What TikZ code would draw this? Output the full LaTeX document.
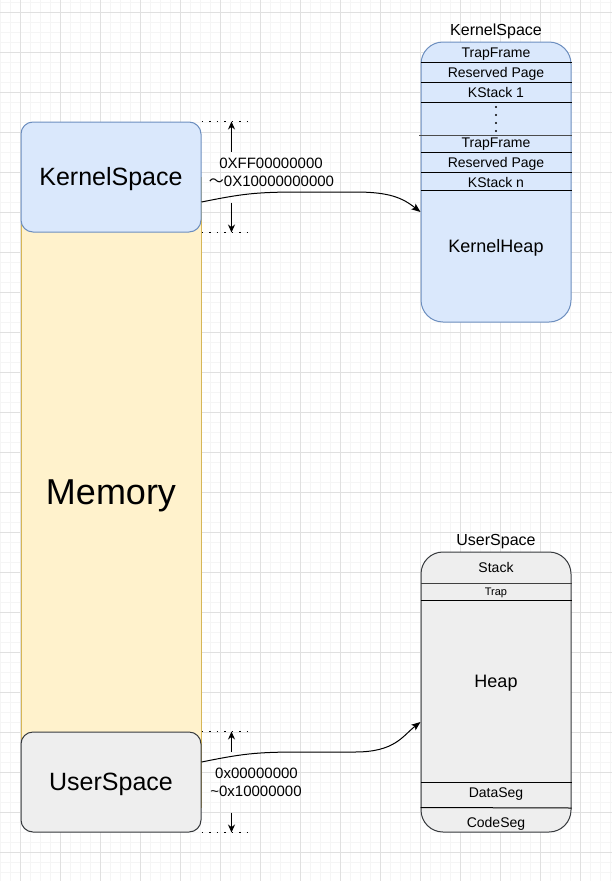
\documentclass[tikz,border=0pt]{standalone}
\usepackage{fontspec}
\setmainfont{Liberation Sans}
\newfontfamily\cjk{Noto Sans CJK SC}
\usetikzlibrary{arrows.meta,calc}
\definecolor{KernelClr}{HTML}{DAE8FC}
\definecolor{KernelLineClr}{HTML}{6C8EBF}
\definecolor{UserClr}{HTML}{EEEEEE}
\definecolor{UserLineClr}{HTML}{36393D}
\definecolor{MemoryClr}{HTML}{FFF2CC}
\definecolor{MemoryLineClr}{HTML}{D6B656}
\definecolor{GridMinorClr}{HTML}{F5F5F5}
\definecolor{GridMajorClr}{HTML}{E0E0E0}
\newcommand\fsz[1]{\fontsize{#1}{#1}\selectfont}

\begin{document}
\begin{tikzpicture}[x=1pt,y=-1pt,line width=1pt,
  gridminor/.style={draw=GridMinorClr,line width=1pt},
  gridmajor/.style={draw=GridMajorClr,line width=1pt},
  captext/.style={text height=#1,text depth=0pt,inner sep=0pt},
  kbox/.style={captext=17.9pt,draw=KernelLineClr,fill=KernelClr,rounded corners=12pt,
    minimum width=180pt,minimum height=110pt,font=\fsz{25}},
  ubox/.style={captext=17.9pt,draw=UserLineClr,fill=UserClr,rounded corners=12pt,
    minimum width=180pt,minimum height=100pt,font=\fsz{25}},
  mbox/.style={captext=25.8pt,draw=MemoryLineClr,fill=MemoryClr,
    minimum width=180pt,minimum height=630pt,font=\fsz{36}},
  segbox/.style={rounded corners=22pt,minimum width=150pt,minimum height=280pt,inner sep=0pt},
  rowline/.style={draw=black,line width=1pt},
  rowtext/.style={captext=10pt,font=\fsz{14}},
  smalltext/.style={captext=7.9pt,font=\fsz{11}},
  bigtext/.style={captext=12.9pt,font=\fsz{18}},
  titletext/.style={captext=11.5pt,font=\fsz{16}},
  addrtext/.style={captext=10.7pt,font=\fsz{15}},
  boundline/.style={line width=1.7pt,dash pattern=on 1.7pt off 5.8pt},
  tickarrow/.style={-{Stealth[length=8pt,width=7pt]},line width=1pt},
  linkarrow/.style={-{Stealth[length=9pt,width=7pt,inset=2pt]},line width=1pt}]

\useasboundingbox (0,0) rectangle (612,881);
\fill[white] (0,0) rectangle (612,881);
\foreach \x in {0,10,...,610} \draw[gridminor] (\x,0) -- (\x,881);
\foreach \y in {2,12,...,872} \draw[gridminor] (0,\y) -- (612,\y);
\foreach \x in {20,60,...,600} \draw[gridmajor] (\x,0) -- (\x,881);
\foreach \y in {12,52,...,852} \draw[gridmajor] (0,\y) -- (612,\y);

\node[mbox] (memory) at (111,492) {Memory};
\node[kbox] (kernel) at (111,177) {KernelSpace};
\node[ubox] (user) at (111,782) {UserSpace};

\node[segbox,draw=KernelLineClr,fill=KernelClr] (kheap) at (496,182) {};
\node[segbox,draw=UserLineClr,fill=UserClr] (uspace) at (496,692) {};

\node[titletext] (ktitle) at (496,30) {KernelSpace};
\node[titletext] (utitle) at (496,540) {UserSpace};

\foreach \y in {62,82,102,152,172,190}
  \draw[rowline] (kheap.west |- 0,\y) -- (kheap.east |- 0,\y);
\draw[rowline,draw=black!70] (419,135) -- (kheap.east |- 0,135);
\node[rowtext] (ktrap1) at (496,52.5) {TrapFrame};
\node[rowtext] (kres1) at (496,72.5) {Reserved Page};
\node[rowtext] (kstack1) at (496,92.5) {KStack 1};
\foreach \y in {107,115,123,131} \fill (496,\y) circle (1.1pt);
\node[rowtext] (ktrapn) at (496,142.5) {TrapFrame};
\node[rowtext] (kresn) at (496,162) {Reserved Page};
\node[rowtext] (kstackn) at (496,182) {KStack n};
\node[bigtext] (kheaptext) at (496,246) {KernelHeap};

\draw[rowline,draw=black!75] (uspace.west |- 0,583) -- (uspace.east |- 0,583);
\draw[rowline] (uspace.west |- 0,600) -- (uspace.east |- 0,600);
\draw[rowline] (uspace.west |- 0,782) -- (uspace.east |- 0,782);
\draw[rowline] (uspace.west |- 0,807.5) -- (uspace.east |- 0,808);
\node[rowtext] (ustack) at (496,567.5) {Stack};
\node[smalltext] (utrap) at (496,592) {Trap};
\node[bigtext] (uheap) at (496,681.5) {Heap};
\node[rowtext] (udata) at (496,792.5) {DataSeg};
\node[rowtext] (ucode) at (496,822.5) {CodeSeg};

\draw[boundline] (kernel.north east) -- ++(50,0);
\draw[boundline] (kernel.south east) -- ++(50,0);
\draw[boundline] (user.north east) -- ++(50,0);
\draw[boundline] (user.south east) -- ++(50,0);

\draw[tickarrow] ($(kernel.north east)+(30,30)$) -- ($(kernel.north east)+(30,0)$);
\draw[tickarrow] ($(kernel.south east)+(30,-30)$) -- ($(kernel.south east)+(30,0)$);
\draw[tickarrow] ($(user.north east)+(30,20)$) -- ($(user.north east)+(30,0)$);
\draw[tickarrow] ($(user.south east)+(30,-20)$) -- ($(user.south east)+(30,0)$);

\node[addrtext] (khigh) at (271,163) {0XFF00000000};
\node[addrtext] (klow) at (271.5,181.5) {{\cjk 〜}0X10000000000};
\node[addrtext] (uhigh) at (256.5,773) {0x00000000};
\node[addrtext] (ulow) at (256,791.5) {\char`\~0x10000000};

\coordinate (kout) at ($(kernel.east)+(0,25)$);
\coordinate (kin) at ($(kheap.west)+(0,30)$);
\coordinate (uout) at ($(user.east)+(0,-20)$);
\coordinate (uin) at ($(uspace.west)+(0,30)$);

\draw[linkarrow] (kout) .. controls +(40,-8) and +(-45,0) .. (300,192) -- (355,192)
  .. controls +(35,0) and +(-18,-14) .. (kin);
\draw[linkarrow] (uout) .. controls +(40,-8) and +(-45,0) .. (300,752) -- (355,752)
  .. controls +(40,0) and +(-18,14) .. (uin);

\end{tikzpicture}
\end{document}
